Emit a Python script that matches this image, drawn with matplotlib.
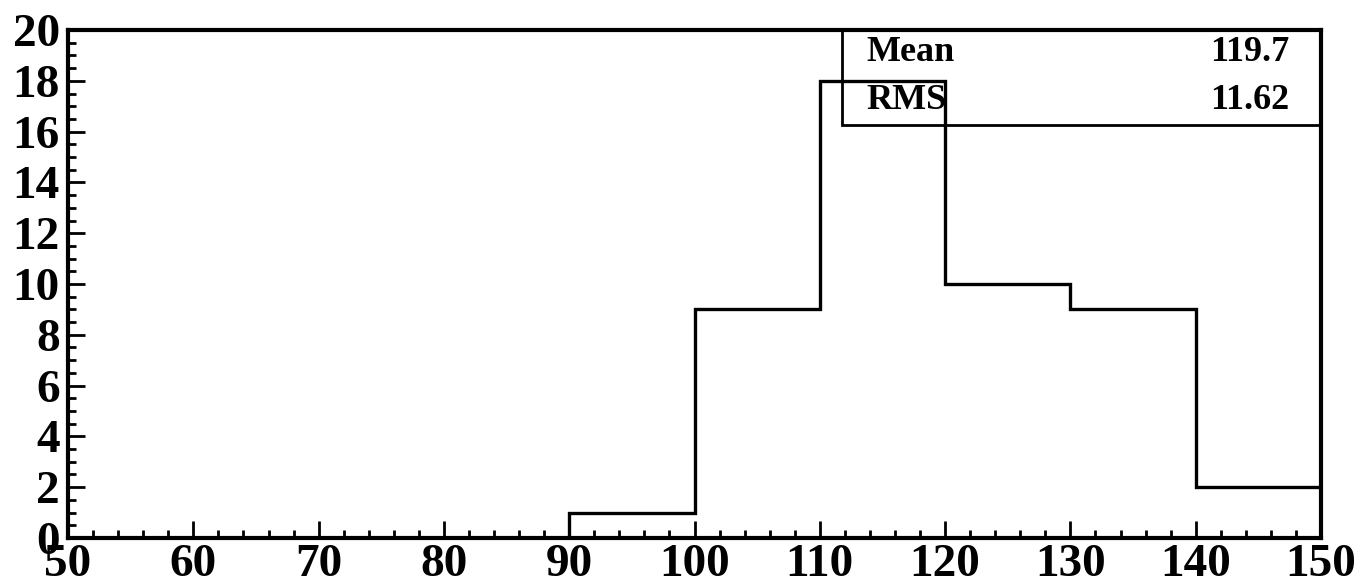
import matplotlib
matplotlib.use("Agg")
import matplotlib.pyplot as plt
from matplotlib.patches import Rectangle
from matplotlib.ticker import MultipleLocator

bin_edges = [50, 60, 70, 80, 90, 100, 110, 120, 130, 140, 150]
counts = [0, 0, 0, 0, 1, 9, 18, 10, 9, 2]
stat_names = ["Mean", "RMS"]
stat_values = ["119.7", "11.62"]

plt.rcParams['font.family'] = ['Liberation Serif', 'DejaVu Serif']
plt.rcParams['font.weight'] = 'bold'

fig = plt.figure(figsize=(13.61, 5.84), dpi=100)
ax = fig.add_axes([0.05, 0.0788, 0.9206, 0.8698])

ax.stairs(counts, bin_edges, baseline=0, fill=False, color='black', linewidth=2.4)

ax.set_xlim(50, 150)
ax.set_ylim(0, 20)
ax.xaxis.set_major_locator(MultipleLocator(10))
ax.xaxis.set_minor_locator(MultipleLocator(2))
ax.yaxis.set_major_locator(MultipleLocator(2))
ax.yaxis.set_minor_locator(MultipleLocator(0.5))

ax.tick_params(axis='both', which='both', direction='in', top=False, right=False,
               width=2.0, colors='black')
ax.tick_params(axis='both', which='major', length=12, labelsize=34)
ax.tick_params(axis='both', which='minor', length=6)
ax.tick_params(axis='x', which='major', pad=4)
ax.tick_params(axis='y', which='major', pad=6)
for lbl in ax.get_xticklabels() + ax.get_yticklabels():
    lbl.set_fontweight('bold')

for s in ax.spines.values():
    s.set_linewidth(3.0)
    s.set_color('black')

# statistics box
box = Rectangle((111.8, 16.26), 150 - 111.8, 20 - 16.26, fill=False,
                edgecolor='black', linewidth=2.0, clip_on=False, zorder=5)
ax.add_patch(box)
ys = [0.955, 0.862]
for name, val, y in zip(stat_names, stat_values, ys):
    ax.text(0.637, y, name, transform=ax.transAxes, fontsize=26, fontweight='bold',
            ha='left', va='center')
    ax.text(0.975, y, val, transform=ax.transAxes, fontsize=26, fontweight='bold',
            ha='right', va='center')

fig.savefig("out.png", dpi=100)
